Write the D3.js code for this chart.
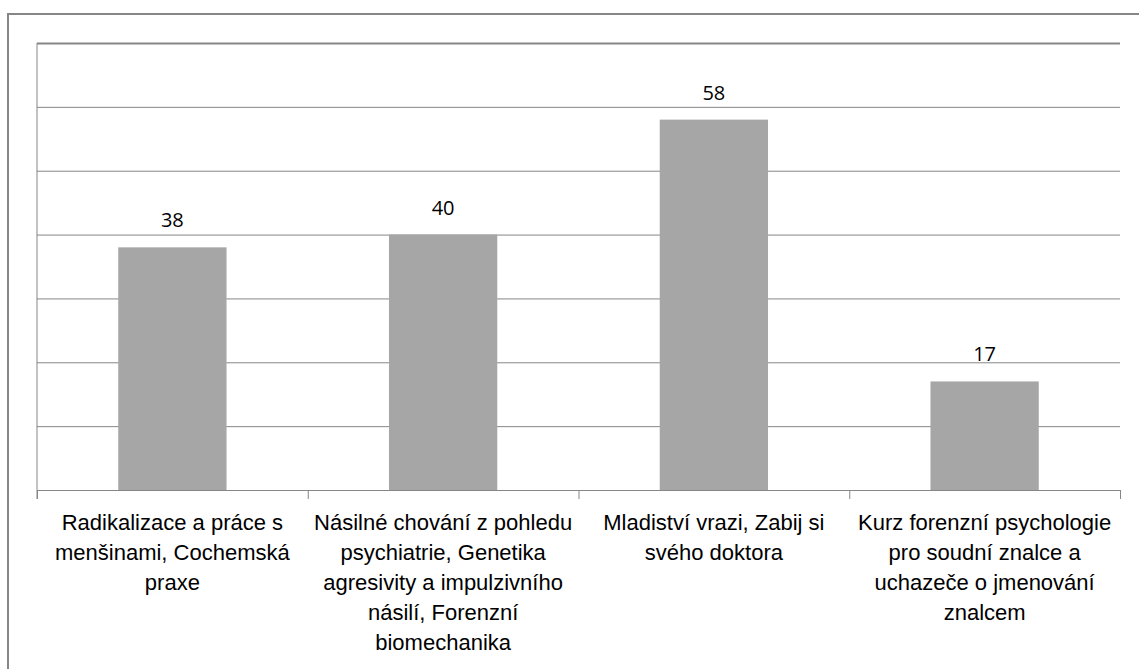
<!DOCTYPE html>
<html>
<head>
<meta charset="utf-8">
<script src="https://cdn.jsdelivr.net/npm/d3@7"></script>
<style>
	body { margin: 0; background: #fff; }
</style>
</head>
<body>
<svg></svg>
<script>
// categories (each label already split into lines as in the picture)
const categories = ['c1', 'c2', 'c3', 'c4'];
const labelLines = [
	['Radikalizace a práce s', 'menšinami, Cochemská', 'praxe'],
	['Násilné chování z pohledu', 'psychiatrie, Genetika', 'agresivity a impulzivního', 'násilí, Forenzní', 'biomechanika'],
	['Mladiství vrazi, Zabij si', 'svého doktora'],
	['Kurz forenzní psychologie', 'pro soudní znalce a', 'uchazeče o jmenování', 'znalcem']
];
const values = [38, 40, 58, 17];
const yTicks = [0, 10, 20, 30, 40, 50, 60, 70];

drawChart = () => {
	let svgWidth = 1139,
		svgHeight = 669;
	let left = 37, right = 1120, top = 43, bottom = 490;

	let svg = d3.select('svg').attr('width', svgWidth).attr('height', svgHeight);

	// outer chart border (only top and left are in view)
	svg.append('rect')
		.attr('x', 8).attr('y', 14)
		.attr('width', 1200).attr('height', 800)
		.attr('fill', 'none')
		.attr('stroke', '#868686')
		.attr('stroke-width', 2);

	let x = d3.scaleBand().domain(categories).range([left, right]).paddingInner(0.6).paddingOuter(0.3);
	let y = d3.scaleLinear().domain([0, 70]).range([bottom, top]);

	// gridlines
	let grid = svg.append('g')
		.attr('transform', 'translate(' + left + ',0)')
		.call(d3.axisLeft(y).tickValues(yTicks).tickSize(-(right - left)).tickFormat(''));
	grid.select('.domain').remove();
	grid.selectAll('.tick line')
		.attr('stroke', '#868686')
		.attr('stroke-width', (d) => (d === 70 ? 2 : 1));

	// vertical axis line
	svg.append('line')
		.attr('x1', left).attr('x2', left)
		.attr('y1', top).attr('y2', bottom + 9)
		.attr('stroke', '#868686');

	// category boundary ticks
	let bounds = d3.scaleLinear().domain([0, categories.length]).range([left, right]);
	let xAxis = svg.append('g')
		.attr('transform', 'translate(0,' + bottom + ')')
		.call(d3.axisBottom(bounds).tickValues(d3.range(categories.length + 1)).tickSize(9).tickSizeOuter(0).tickFormat(''));
	xAxis.select('.domain').attr('stroke', '#868686');
	xAxis.selectAll('.tick line').attr('stroke', '#868686');

	// bars
	svg.append('g')
		.selectAll('rect')
		.data(values)
		.join('rect')
		.attr('x', (d, i) => x(categories[i]))
		.attr('y', (d) => y(d))
		.attr('width', x.bandwidth())
		.attr('height', (d) => y(0) - y(d))
		.attr('fill', '#a6a6a6');

	// value labels
	svg.append('g')
		.selectAll('text')
		.data(values)
		.join('text')
		.attr('x', (d, i) => x(categories[i]) + x.bandwidth() / 2)
		.attr('y', (d) => y(d) - 20)
		.attr('text-anchor', 'middle')
		.attr('font-family', "'Open Sans', sans-serif")
		.attr('font-size', 20)
		.attr('fill', '#000')
		.text((d) => d);

	// category labels
	let labels = svg.append('g')
		.selectAll('text')
		.data(labelLines)
		.join('text')
		.attr('text-anchor', 'middle')
		.attr('font-family', "'Liberation Sans', Arial, sans-serif")
		.attr('font-size', 22)
		.attr('fill', '#000');
	labels.selectAll('tspan')
		.data((d, i) => d.map((t) => ({ t: t, i: i })))
		.join('tspan')
		.attr('x', (d) => x(categories[d.i]) + x.bandwidth() / 2)
		.attr('y', (d, j) => 530 + j * 30)
		.text((d) => d.t);
};

drawChart();
</script>
</body>
</html>
